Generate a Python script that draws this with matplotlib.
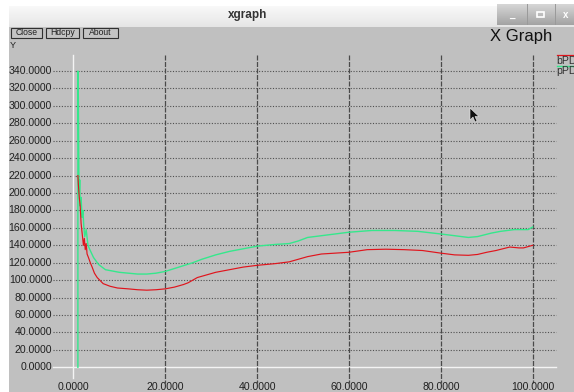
import matplotlib
matplotlib.use("Agg")
import matplotlib.pyplot as plt
from matplotlib.patches import Rectangle, Polygon
import numpy as np

# ---------------- data ----------------
x_ticks = [0, 20, 40, 60, 80, 100]
x_tick_labels = ["0.0000", "20.0000", "40.0000", "60.0000", "80.0000", "100.0000"]
y_ticks = list(range(0, 341, 20))
y_tick_labels = ["%.4f" % v for v in y_ticks]

green_x = [1.0, 1.0, 1.1, 1.2, 1.3, 1.4, 1.5, 1.7, 1.9, 2.1, 2.3, 2.5, 2.8, 3.2, 3.6,
           4.4, 5.5, 7, 8, 10, 12, 14, 16, 18, 20, 23, 26, 28, 31, 34, 37, 40, 44,
           47, 49, 51, 54, 57, 60, 65, 70, 75, 80, 83, 86, 88, 91, 93, 96, 99, 100]
green_y = [0, 340, 310, 225, 200, 215, 185, 195, 172, 180, 160, 150, 158, 140, 135,
           126, 118, 112, 111, 109, 108, 107, 107, 108, 110, 115, 120, 124, 129, 133, 136, 139, 141,
           142, 145, 149, 151, 153, 155, 157, 157, 156, 153, 151, 149, 150, 154, 156, 158, 158, 161]

red_x = [1.0, 1.1, 1.3, 1.5, 1.7, 2.0, 2.2, 2.4, 2.6, 2.8, 3.0, 3.3, 3.7, 4.1, 4.6,
         5.2, 6.5, 8, 9.6, 12, 14, 16, 18, 20, 22, 24, 25, 27, 29, 31, 34, 37, 40,
         44, 47, 49, 51, 54, 57, 60, 64, 68, 72, 76, 80, 83, 86, 88, 90, 92, 95, 97, 98, 100]
red_y = [220, 210, 195, 185, 165, 150, 140, 148, 135, 142, 130, 126, 120, 115, 108,
         103, 96, 93, 91, 90, 89, 88.5, 89, 90, 92, 95, 97, 103, 106, 109, 112, 115, 117,
         119, 121, 124, 127, 130, 131, 132, 135, 135.5, 135, 134, 131, 129, 128.5, 129.5, 132, 134, 138, 137, 137, 140]

series_names = ["bPD", "pPD"]

# ---------------- figure ----------------
W, H = 574, 392
fig = plt.figure(figsize=(W / 100, H / 100), dpi=100)
fig.patch.set_facecolor("white")
plt.rcParams['font.family'] = ['Liberation Sans', 'DejaVu Sans']


def fx(px):
    return px / W


def fy(py):
    return 1 - py / H


def rect(x0, y0, x1, y1, z=-5, **kw):
    fig.patches.append(Rectangle((fx(x0), fy(y1)), fx(x1) - fx(x0), fy(y0) - fy(y1),
                                 transform=fig.transFigure, figure=fig, zorder=z, **kw))


# window body
rect(9, 27, 574, 392, z=-10, facecolor="#c0c0c0", edgecolor="none")
# title bar gradient
grad = np.linspace(0.975, 0.90, 50).reshape(-1, 1)
axt = fig.add_axes([fx(9), fy(27), fx(574) - fx(9), fy(6) - fy(27)], zorder=-8)
axt.imshow(np.dstack([grad, grad, grad]), aspect="auto", extent=[0, 1, 0, 1])
axt.set_axis_off()
fig.text(fx(248), fy(15), "xgraph", ha="center", va="center", fontsize=8.5,
         fontweight="bold", color="#333333")
# window control buttons
axb = fig.add_axes([fx(497), fy(25), fx(574) - fx(497), fy(4) - fy(25)], zorder=-7)
g2 = np.linspace(0.84, 0.64, 50).reshape(-1, 1)
axb.imshow(np.dstack([g2, g2, g2]), aspect="auto", extent=[0, 1, 0, 1])
axb.set_axis_off()
for sx in (527, 555):
    rect(sx, 4, sx + 0.8, 25, z=1, facecolor="#9a9a9a", edgecolor="none")
fig.text(fx(512), fy(15), "_", ha="center", va="center", fontsize=7, color="white", fontweight="bold")
rect(537, 12, 544, 17, z=1, facecolor="none", edgecolor="white", linewidth=1.2)
fig.text(fx(566), fy(15), "x", ha="center", va="center", fontsize=7, color="white", fontweight="bold")

# xgraph buttons
for label, x0, x1 in [("Close", 11, 42), ("Hdcpy", 46, 79), ("About", 83, 118)]:
    rect(x0, 27.5, x1, 38, z=1, facecolor="#c4c4c4", edgecolor="#303030", linewidth=0.8)
    fig.text(fx((x0 + x1) / 2), fy(32.8), label, ha="center", va="center", fontsize=6.2,
             color="#202020", zorder=4)
fig.text(fx(10), fy(45), "Y", ha="left", va="center", fontsize=6.5, color="#202020")
fig.text(fx(490), fy(37), "X Graph", ha="left", va="center", fontsize=12, color="#111111")

# ---------------- plot axes ----------------
ax = fig.add_axes([0, 0, 1, 1])
ax.patch.set_alpha(0)
ax.set_axis_off()
sx_ = (532.7 - 73.3) / 100.0
sy_ = (367.3 - 71.0) / 340.0
ax.set_xlim(-73.3 / sx_, (W - 73.3) / sx_)
ax.set_ylim(-(H - 367.3) / sy_, 367.3 / sy_)


def dx(px):
    return (px - 73.3) / sx_


def dy(py):
    return (367.3 - py) / sy_


# horizontal gridlines
for v, lab in zip(y_ticks, y_tick_labels):
    if v == 0:
        ax.plot([dx(53), dx(556)], [v, v], color="#f4f4f4", lw=1.0, zorder=1)
    else:
        ax.plot([dx(53), dx(556)], [v, v], color="#505050", lw=0.8,
                linestyle=(0, (1, 1.5)), zorder=1)
    ax.text(dx(52), v, lab, ha="right", va="center", fontsize=7.6, color="#202020")

# vertical gridlines
for v, lab in zip(x_ticks, x_tick_labels):
    if v == 0:
        ax.plot([v, v], [dy(55), dy(378)], color="#f4f4f4", lw=1.0, zorder=1)
    else:
        ax.plot([v, v], [dy(55), dy(383)], color="#4a4a4a", lw=0.9,
                linestyle=(0, (4, 1.2)), zorder=1)
    ax.text(v, dy(387.5), lab, ha="center", va="center", fontsize=7.6, color="#202020")

# series
ax.plot(red_x, red_y, color="#e0141c", lw=0.85, zorder=3)
ax.plot(green_x, green_y, color="#35e88c", lw=1.0, zorder=2)

# legend (cut at right edge)
ax.plot([dx(557), dx(580)], [dy(55.3), dy(55.3)], color="#e0141c", lw=0.9, clip_on=False)
ax.text(dx(556), dy(61), series_names[0], ha="left", va="center", fontsize=7.6, color="#303030")
ax.plot([dx(557), dx(580)], [dy(66), dy(66)], color="#35e88c", lw=1.0, clip_on=False)
ax.text(dx(556), dy(71.5), series_names[1], ha="left", va="center", fontsize=7.6, color="#303030")

# mouse pointer
cx, cy = 470, 108
pts = [(cx, cy), (cx, cy + 12), (cx + 3, cy + 9), (cx + 5, cy + 14), (cx + 7, cy + 13),
       (cx + 5, cy + 8.5), (cx + 9, cy + 8.5)]
fig.patches.append(Polygon([(fx(a), fy(b)) for a, b in pts], closed=True, transform=fig.transFigure,
                           figure=fig, facecolor="#111111", edgecolor="#eeeeee", linewidth=0.4,
                           zorder=20))

fig.savefig("out.png", dpi=100, facecolor=fig.get_facecolor())
